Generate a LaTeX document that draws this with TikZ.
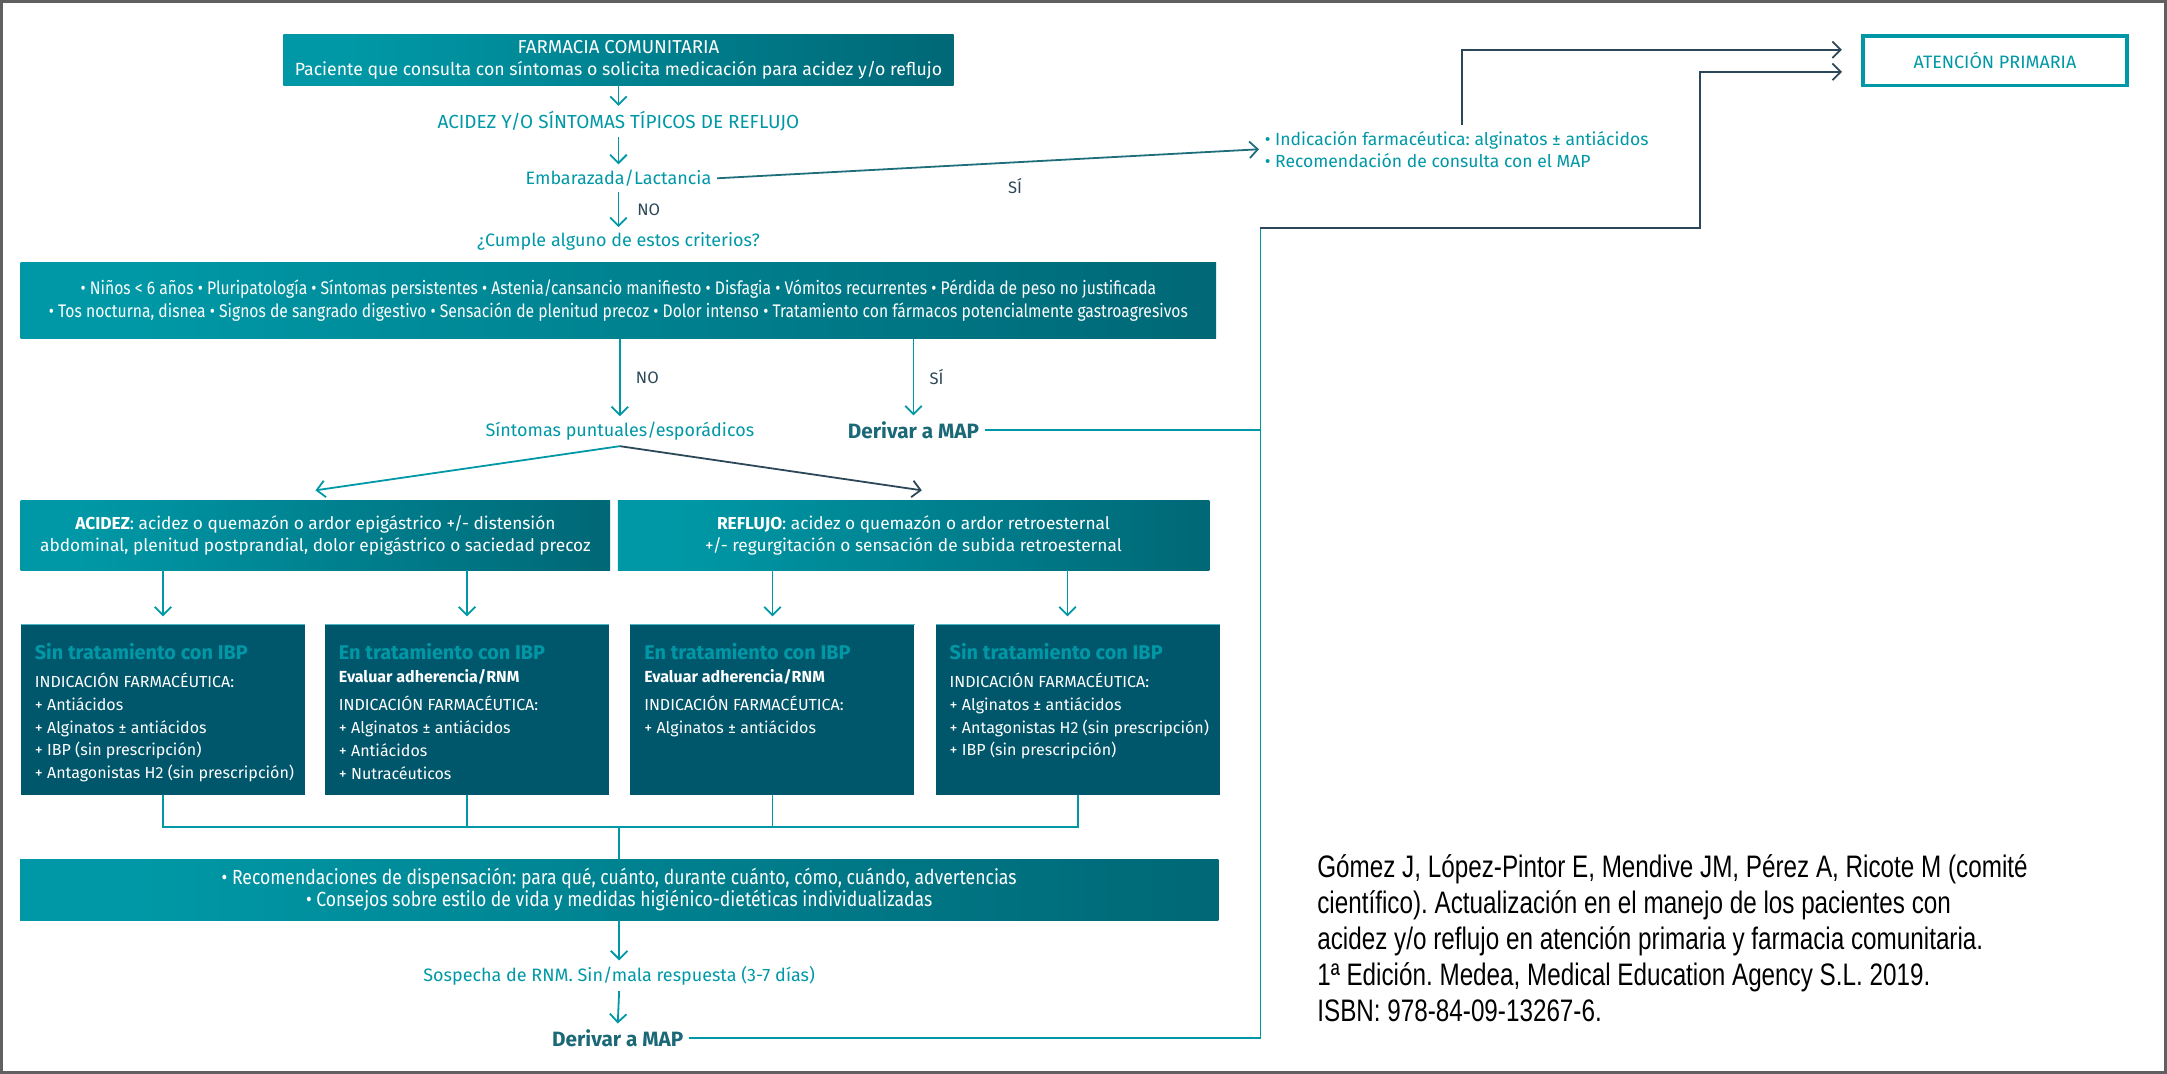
\documentclass[tikz,border=0pt]{standalone}
\usepackage{fontspec}
\setmainfont{Fira Sans}
\newfontfamily\condfont[FakeStretch=0.86]{Fira Sans}
\newfontfamily\citefont[FakeStretch=0.78]{Liberation Sans}
\usetikzlibrary{positioning,arrows.meta}
\frenchspacing

\definecolor{farmteal}{HTML}{0098A6}
\definecolor{farmdeep}{HTML}{00606F}
\definecolor{farmslate}{HTML}{2C4858}
\definecolor{farmpetrol}{HTML}{00576C}
\definecolor{farmlink}{HTML}{1E6E7C}
\definecolor{farmdark}{HTML}{1B6877}
\definecolor{framegray}{HTML}{606060}

\pgfdeclarehorizontalshading{bandshade}{100bp}{color(0bp)=(farmteal); color(30bp)=(farmteal); color(82bp)=(farmdeep); color(100bp)=(farmslate)}

\tikzstyle{bandbox} = [shading=bandshade, text=white, align=center, inner sep=0pt]
\tikzstyle{ibpbox} = [fill=farmpetrol, minimum width=205.5pt, minimum height=123pt,
    inner sep=0pt, anchor=north west]
\tikzstyle{ibptext} = [text=white, align=left, inner sep=0pt, anchor=north west,
    font=\fontsize{11.6}{16.5}\selectfont]
\tikzstyle{steptext} = [text=farmteal, inner sep=4pt, font=\fontsize{13}{16}\selectfont]
\tikzstyle{mapnode} = [text=farmdark, inner sep=4pt, font=\bfseries\fontsize{15}{16}\selectfont]
\tikzstyle{answer} = [text=farmslate, inner sep=1pt, font=\fontsize{12}{13}\selectfont]
\tikzstyle{flowarrow} = [draw=farmteal, line width=1.3pt, -{Straight Barb[length=6pt,width=12pt]}]
\tikzstyle{darkarrow} = [flowarrow, draw=farmslate]
\tikzstyle{railline} = [draw=farmteal, line width=1.3pt]

\newcommand{\ibptitle}[1]{{\color{farmteal}\bfseries\fontsize{14.4}{16.5}\selectfont #1}}

\begin{document}
\begin{tikzpicture}[x=1pt, y=-1pt]
\useasboundingbox (0,0) rectangle (1568,777);
\draw[framegray, line width=2pt] (1,1) rectangle (1567,776);

% first questions
\node[bandbox, minimum width=485pt, minimum height=37pt, font=\fontsize{12.8}{16}\selectfont] (farmacia) at (447.5,43.5)
    {{\fontsize{13.5}{16}\selectfont FARMACIA COMUNITARIA}\\Paciente que consulta con síntomas o solicita medicación para acidez y/o reflujo};
\node[steptext, font=\fontsize{13.7}{16}\selectfont] (tipicos) at (447.5,88) {ACIDEZ Y/O SÍNTOMAS TÍPICOS DE REFLUJO};
\node[steptext] (embarazo) at (447.5,129) {Embarazada/Lactancia};
\node[steptext] (criterios) at (447.5,175) {¿Cumple alguno de estos criterios?};
\node[steptext, anchor=west, align=left, font=\fontsize{12.7}{16}\selectfont] (indicacion) at (911,108)
    {• Indicación farmacéutica: alginatos ± antiácidos\\• Recomendación de consulta con el MAP};
\node[draw=farmteal, line width=2.4pt, minimum width=191pt, minimum height=36pt, text=farmteal,
    font=\fontsize{13}{14}\selectfont] (atencion) at (1443.5,44) {ATENCIÓN PRIMARIA};

\draw[flowarrow] (farmacia.south) -- (tipicos.north);
\draw[flowarrow] (tipicos.south) -- (embarazo.north);
\draw[flowarrow] (embarazo.south) -- node[answer, right=12pt] {NO} (criterios.north);
\draw[flowarrow, draw=farmlink] (embarazo.east) -- node[answer, pos=0.55, below=10pt] {SÍ} (indicacion.west);

% criteria
\node[bandbox, minimum width=865pt, minimum height=55pt, font=\condfont\fontsize{13.2}{16}\selectfont] (lista) at (447.5,217.5)
    {• Niños < 6 años • Pluripatología • Síntomas persistentes • Astenia/cansancio manifiesto • Disfagia • Vómitos recurrentes • Pérdida de peso no justificada\\
     • Tos nocturna, disnea • Signos de sangrado digestivo • Sensación de plenitud precoz • Dolor intenso • Tratamiento con fármacos potencialmente gastroagresivos};
\node[steptext] (puntual) at (448.5,312) {Síntomas puntuales/esporádicos};
\node[mapnode] (derivar) at (661,311) {Derivar a MAP};
\draw[flowarrow] (lista.south -| puntual.north) -- node[answer, right=10pt] {NO} (puntual.north);
\draw[flowarrow] (lista.south -| derivar.north) -- node[answer, right=10pt] {SÍ} (derivar.north);

% acidez / reflujo
\node[bandbox, minimum width=426.5pt, minimum height=50.5pt, font=\fontsize{12.5}{16}\selectfont] (acidez) at (228.25,387.25)
    {\textbf{ACIDEZ}: acidez o quemazón o ardor epigástrico +/- distensión\\abdominal, plenitud postprandial, dolor epigástrico o saciedad precoz};
\node[bandbox, minimum width=428pt, minimum height=50.5pt, font=\fontsize{12.5}{16}\selectfont] (reflujo) at (661,387.25)
    {\textbf{REFLUJO}: acidez o quemazón o ardor retroesternal\\+/- regurgitación o sensación de subida retroesternal};
\draw[flowarrow] (puntual.south) -- ([yshift=7pt]acidez.north);
\draw[darkarrow] (puntual.south) -- ([xshift=6pt,yshift=7pt]reflujo.north);

% treatment boxes
\node[ibpbox] (sinA) at (15,452) {};
\node[ibpbox] (conA) at (235,452) {};
\node[ibpbox] (conR) at (456,452) {};
\node[ibpbox] (sinR) at (677,452) {};
\foreach \b in {sinA,conA,conR,sinR}
    \draw[farmteal!70, line width=1pt] (\b.north west) -- (\b.north east);

\node[ibptext, below right=13pt and 10pt of sinA.north west] (sinAtxt)
    {\ibptitle{Sin tratamiento con IBP}\\[4pt]INDICACIÓN FARMACÉUTICA:\\+ Antiácidos\\+ Alginatos ± antiácidos\\+ IBP (sin prescripción)\\+ Antagonistas H2 (sin prescripción)};
\node[ibptext, below right=13pt and 10pt of conA.north west] (conAtxt)
    {\ibptitle{En tratamiento con IBP}\\[0.5pt]\textbf{Evaluar adherencia/RNM}\\[4pt]INDICACIÓN FARMACÉUTICA:\\+ Alginatos ± antiácidos\\+ Antiácidos\\+ Nutracéuticos};
\node[ibptext, below right=13pt and 10pt of conR.north west] (conRtxt)
    {\ibptitle{En tratamiento con IBP}\\[0.5pt]\textbf{Evaluar adherencia/RNM}\\[4pt]INDICACIÓN FARMACÉUTICA:\\+ Alginatos ± antiácidos};
\node[ibptext, below right=13pt and 10pt of sinR.north west] (sinRtxt)
    {\ibptitle{Sin tratamiento con IBP}\\[4pt]INDICACIÓN FARMACÉUTICA:\\+ Alginatos ± antiácidos\\+ Antagonistas H2 (sin prescripción)\\+ IBP (sin prescripción)};

\coordinate (sinRin) at ([xshift=-7.5pt,yshift=6pt]sinR.north);
\draw[flowarrow] (acidez.south -| sinA.north) -- ([yshift=6pt]sinA.north);
\draw[flowarrow] (acidez.south -| conA.north) -- ([yshift=6pt]conA.north);
\draw[flowarrow] (reflujo.south -| conR.north) -- ([yshift=6pt]conR.north);
\draw[flowarrow] (reflujo.south -| sinRin) -- (sinRin);

% join and advice
\node[bandbox, minimum width=867pt, minimum height=44.5pt, font=\condfont\fontsize{14.8}{16}\selectfont] (recom) at (448,643.8)
    {• Recomendaciones de dispensación: para qué, cuánto, durante cuánto, cómo, cuándo, advertencias\\• Consejos sobre estilo de vida y medidas higiénico-dietéticas individualizadas};
\coordinate (junta) at (448,598.5);
\draw[railline] (sinA.south) |- (sinR.south |- junta) -- (sinR.south);
\draw[railline] (conA.south) -- (conA.south |- junta);
\draw[railline] (conR.south) -- (conR.south |- junta);
\draw[railline] (junta) -- (recom.north);

\node[steptext] (sospecha) at (448,706) {Sospecha de RNM. Sin/mala respuesta (3-7 días)};
\node[mapnode] (derivarB) at (447,751) {Derivar a MAP};
\draw[flowarrow] (recom.south) -- (sospecha.north);
\draw[flowarrow] (sospecha.south) -- (derivarB.north);

% back to primary care
\coordinate (railx) at (912,0);
\coordinate (railtop) at (912,165);
\coordinate (stepup) at (1230,165);
\coordinate (upx) at (1058,0);
\draw[railline] (derivarB.east) -- (derivarB.east -| railx) -- (railtop);
\draw[railline] (derivar.east) -- (derivar.east -| railx);
\draw[darkarrow, shorten >=14pt] (railtop) -- (stepup) |- ([yshift=-8pt]atencion.west);
\draw[darkarrow, shorten >=14pt] (indicacion.north -| upx) |- ([yshift=8pt]atencion.west);

% reference
\node[anchor=west, align=left, inner sep=0pt, font=\citefont\fontsize{22.5}{26}\selectfont] (cita) at (953,679)
    {Gómez J, López-Pintor E, Mendive JM, Pérez A, Ricote M (comité\\
     científico). Actualización en el manejo de los pacientes con\\
     acidez y/o reflujo en atención primaria y farmacia comunitaria.\\
     1ª Edición. Medea, Medical Education Agency S.L. 2019.\\
     ISBN: 978-84-09-13267-6.};
\end{tikzpicture}
\end{document}
